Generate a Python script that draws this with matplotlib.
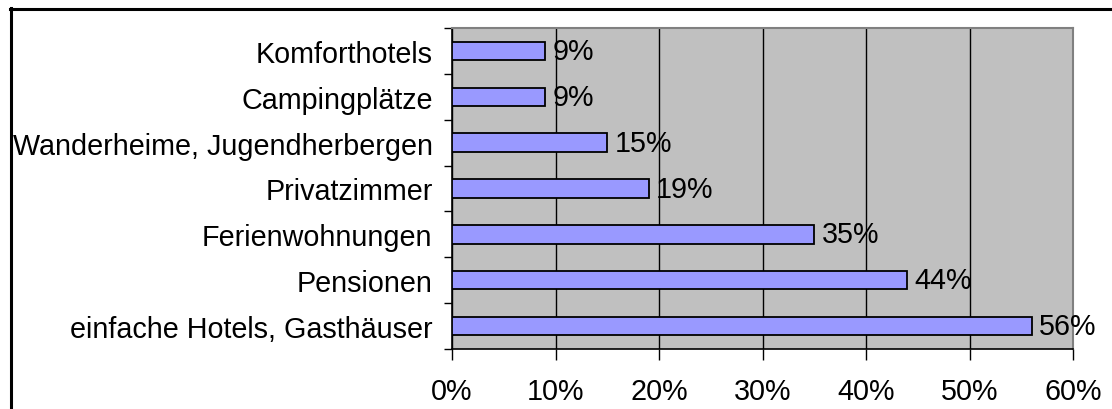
import numpy as np
import matplotlib.pyplot as plt
from matplotlib.lines import Line2D

plt.rcParams['font.family'] = ['Liberation Sans', 'DejaVu Sans']

#---------------
# Data (top to bottom)
categories = ['Komforthotels', 'Campingplätze', 'Wanderheime, Jugendherbergen',
              'Privatzimmer', 'Ferienwohnungen', 'Pensionen',
              'einfache Hotels, Gasthäuser']
shares = [9, 9, 15, 19, 35, 44, 56]
xticks = [0, 10, 20, 30, 40, 50, 60]
xticklabels = ['0%', '10%', '20%', '30%', '40%', '50%', '60%']
fs = 20.7

W, H = 1112, 410
fig = plt.figure(figsize=(W/100, H/100), dpi=100)
fig.patch.set_facecolor('white')

# outer frame (left + top only visible)
fig.add_artist(Line2D([10.5/W, 10.5/W], [0, 1-9/H], color='black', lw=2.2,
                      transform=fig.transFigure))
fig.add_artist(Line2D([10/W, 1], [1-9.5/H, 1-9.5/H], color='black', lw=2.2,
                      transform=fig.transFigure))

ax = fig.add_axes([452/W, 60/H, 621/W, 321/H])
ax.set_facecolor('#C0C0C0')

y = np.arange(len(categories))
ax.barh(y, shares, height=0.4, color='#9999FF', edgecolor='black',
        linewidth=1.3, zorder=3)
for yi, v in zip(y, shares):
    ax.text(v + 0.7, yi, str(v) + '%', va='center', ha='left', fontsize=fs,
            zorder=4)

ax.set_xlim(0, 60)
ax.set_ylim(len(categories) - 0.5, -0.5)
ax.set_xticks(xticks)
ax.set_xticklabels(xticklabels, fontsize=fs)
ax.set_yticks(y)
ax.set_yticklabels(categories, fontsize=fs)
ax.set_yticks(np.arange(len(categories) + 1) - 0.5, minor=True)
ax.tick_params(axis='y', which='major', length=0, pad=14)
ax.tick_params(axis='y', which='minor', length=6, width=1, direction='out')
ax.tick_params(axis='x', which='major', length=8, width=1, direction='out',
               pad=12)
ax.xaxis.grid(True, color='black', lw=1, zorder=1)
ax.set_axisbelow(True)

ax.spines['top'].set_color('#808080')
ax.spines['right'].set_color('#808080')
ax.spines['top'].set_linewidth(1.5)
ax.spines['right'].set_linewidth(1.5)
ax.spines['left'].set_linewidth(1.2)
ax.spines['bottom'].set_linewidth(1.2)

plt.savefig('out.png', dpi=100)
